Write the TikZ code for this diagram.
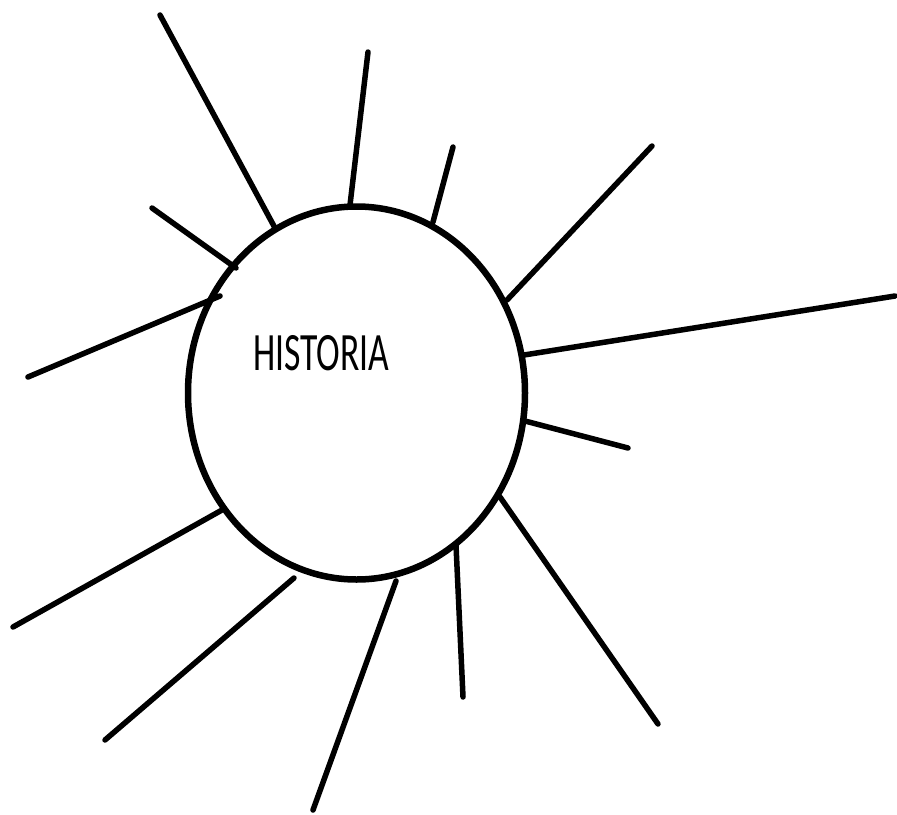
\documentclass[tikz,border=0pt]{standalone}
\usepackage{fontspec}
\setmainfont{Carlito}
\usetikzlibrary{shapes.geometric}
\begin{document}
\begin{tikzpicture}[x=1pt,y=-1pt,
  ray/.style={line width=5.5pt,line cap=round},
  sun/.style={draw,ellipse,line width=6.5pt,minimum width=337pt,minimum height=373pt,inner sep=0pt}]
\useasboundingbox (0,0) rectangle (897,814);
\node[sun] (c) at (356.5,393) {};
\node[anchor=base west,inner sep=0pt,font=\fontsize{54}{60}\selectfont] (t) at (253,370) {\scalebox{0.66}[1]{HISTORIA}};
% ray ends
\coordinate (a1) at (160,15);  \coordinate (b1) at (275,228);
\coordinate (a2) at (368,52);  \coordinate (b2) at (350,205);
\coordinate (a3) at (453,147); \coordinate (b3) at (433,222);
\coordinate (a4) at (652,146); \coordinate (b4) at (507,300);
\coordinate (a5) at (895,296); \coordinate (b5) at (524,355);
\coordinate (a6) at (628,448); \coordinate (b6) at (525,421);
\coordinate (a7) at (658,724); \coordinate (b7) at (500,497);
\coordinate (a8) at (463,697); \coordinate (b8) at (456,545);
\coordinate (a9) at (313,810); \coordinate (b9) at (396,581);
\coordinate (a10) at (105,740); \coordinate (b10) at (294,578);
\coordinate (a11) at (13,627); \coordinate (b11) at (222,510);
\coordinate (a12) at (28,377); \coordinate (b12) at (220,296);
\coordinate (a13) at (152,208); \coordinate (b13) at (236,268);
\foreach \i in {1,...,13} \draw[ray] (a\i) -- (b\i);
\end{tikzpicture}
\end{document}
